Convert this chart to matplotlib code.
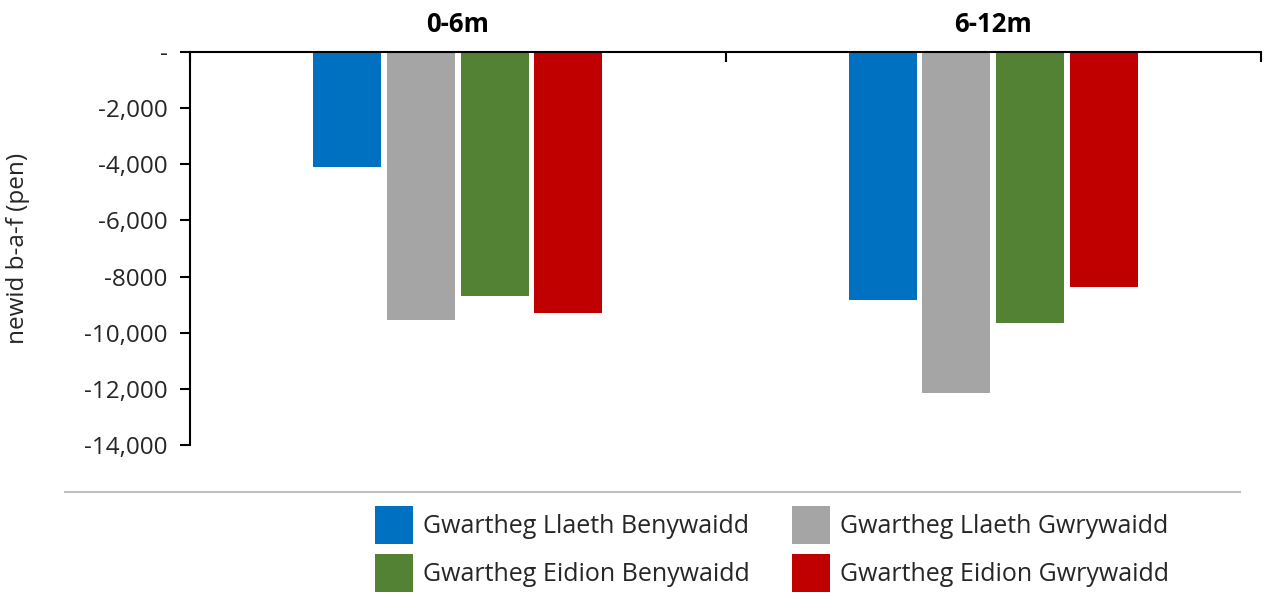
import matplotlib
matplotlib.use("Agg")
import matplotlib.pyplot as plt
from matplotlib.patches import Patch
import numpy as np

categories = ["0-6m", "6-12m"]
series_names = ["Gwartheg Llaeth Benywaidd", "Gwartheg Llaeth Gwrywaidd",
                "Gwartheg Eidion Benywaidd", "Gwartheg Eidion Gwrywaidd"]
series_colors = ["#0070C0", "#A5A5A5", "#548235", "#C00000"]
llaeth_benyw = [-4110, -8830]
llaeth_gwryw = [-9540, -12150]
eidion_benyw = [-8700, -9660]
eidion_gwryw = [-9290, -8370]
yticks = [0, -2000, -4000, -6000, -8000, -10000, -12000, -14000]
ytick_labels = ["-", "-2,000", "-4,000", "-6,000", "-8000", "-10,000", "-12,000", "-14,000"]
ylabel = "newid b-a-f (pen)"

plt.rcParams['font.family'] = ['Open Sans', 'DejaVu Sans']

fig = plt.figure(figsize=(12.68, 5.93), dpi=100)
W, H = 1268, 593
ax = fig.add_axes([190 / W, 1 - 445 / H, (1261 - 190) / W, (445 - 52) / H])

series = [llaeth_benyw, llaeth_gwryw, eidion_benyw, eidion_gwryw]
x = np.arange(len(categories))
step = 0.1375
width = 0.127
for j, (vals, col) in enumerate(zip(series, series_colors)):
    ax.bar(x + (j - 1.5) * step, vals, width=width, color=col, zorder=2)

ax.set_xlim(-0.5, len(categories) - 0.5)
ax.set_ylim(-14000, 0)

ax.set_yticks(yticks)
ax.set_yticklabels(ytick_labels)
ax.tick_params(axis='y', direction='out', length=7, width=1.5, labelsize=17.5,
               colors='black', labelcolor='#262626', pad=9)

ax.xaxis.tick_top()
ax.set_xticks(np.arange(-0.5, len(categories)), minor=False)
ax.set_xticklabels([""] * (len(categories) + 1))
ax.set_xticks(x, minor=True)
ax.set_xticklabels(categories, minor=True, fontweight='bold', fontsize=18.5)
ax.tick_params(axis='x', which='major', direction='in', length=7, width=1.5, colors='black')
ax.tick_params(axis='x', which='minor', length=0, pad=10, labelcolor='black')

for s in ['right', 'bottom']:
    ax.spines[s].set_visible(False)
ax.spines['left'].set_linewidth(1.5)
ax.spines['top'].set_linewidth(1.5)

fig.text(18 / W, 1 - 248 / H, ylabel, rotation=90, ha='center', va='center',
         fontsize=17.5, color='#262626')

# separator line
fig.add_artist(plt.Line2D([65 / W, 1240 / W], [1 - 492 / H, 1 - 492 / H],
                          color='#BFBFBF', linewidth=1.5))

order = [0, 2, 1, 3]
handles = [Patch(facecolor=series_colors[i], edgecolor='none') for i in order]
labels = [series_names[i] for i in order]
leg = fig.legend(handles, labels, ncol=2, loc='upper left',
                 bbox_to_anchor=(370 / W, 1 - 501 / H), frameon=False,
                 fontsize=18, handlelength=1.52, handleheight=1.95,
                 handletextpad=0.4, columnspacing=1.68, labelspacing=0.4,
                 borderpad=0.2, borderaxespad=0)
for t in leg.get_texts():
    t.set_color('#262626')

fig.savefig("out.png", dpi=100)
